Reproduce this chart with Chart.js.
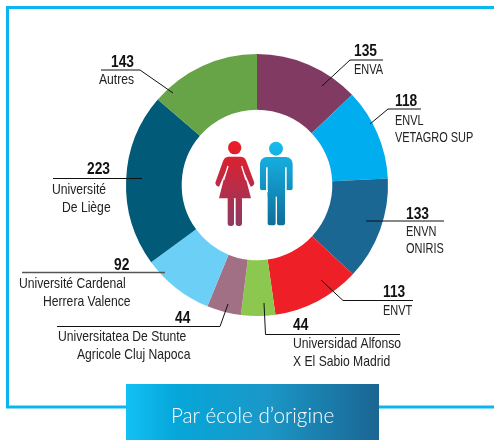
<!DOCTYPE html>
<html><head><meta charset="utf-8">
<style>html,body{margin:0;padding:0;background:#fff}#w{position:relative;width:494px;height:440px}canvas{display:block}</style>
<script src="https://cdn.jsdelivr.net/npm/chart.js@4"></script>
</head><body><div id="w"><canvas id="c" width="494" height="440"></canvas></div>
<script>
const categories=["ENVA","ENVL VETAGRO SUP","ENVN ONIRIS","ENVT","Universidad Alfonso X El Sabio Madrid","Universitatea De Stunte Agricole Cluj Napoca","Université Cardenal Herrera Valence","Université De Liège","Autres"];
const values=[135,118,133,113,44,44,92,223,143];
const colors=["#813a62","#00aeef","#1b6793","#ee1f26","#8cc84f","#a17085","#6ccff6","#005a78","#67a347"];
const labelLines=[["ENVA"],["ENVL","VETAGRO SUP"],["ENVN","ONIRIS"],["ENVT"],["Universidad Alfonso","X El Sabio Madrid"],["Universitatea De Stunte","Agricole Cluj Napoca"],["Université Cardenal","Herrera Valence"],["Université","De Liège"],["Autres"]];
const title="Par école d’origine";
const layout=[
 {nx:354,ny:56,tx:[354],ty:[74],path:[[383,60],[350,60],[322,86]]},
 {nx:395,ny:106,tx:[395,395],ty:[125,142],path:[[421,109],[388,109],[370,124]]},
 {nx:406,ny:219,tx:[406,406],ty:[236,253],path:[[444,221],[366,221]]},
 {nx:383,ny:297,tx:[383],ty:[315],path:[[413,300.5],[343,300.5],[321,280]]},
 {nx:293,ny:330,tx:[293,293],ty:[348,366],path:[[400,334.5],[265.5,334.5],[264,303]]},
 {nx:175,ny:323,tx:[58,77],ty:[341,359],path:[[57,326.5],[220,326.5],[228,304]]},
 {nx:114,ny:270,tx:[19,43],ty:[288,306],path:[[22,272.5],[165,272.5]],gray:1},
 {nx:87,ny:174,tx:[52,62],ty:[194,212],path:[[53,178.5],[142,178.5]]},
 {nx:111,ny:67,tx:[99],ty:[84],path:[[101,70],[140,70],[173,93]]}
];
function rr(ctx,x,y,w,h,r){ctx.beginPath();ctx.roundRect(x,y,w,h,r);ctx.fill();}
function narrow(ctx,t,x,y,s){ctx.save();ctx.translate(x,y);ctx.scale(s,1);ctx.fillText(t,0,0);ctx.restore();}
function people(ctx){
 ctx.save();ctx.translate(205,130);ctx.scale(1/3,1/3);
 let g=ctx.createLinearGradient(0,33,0,288);g.addColorStop(0,"#ed1c24");g.addColorStop(1,"#8d3a64");
 ctx.fillStyle=g;
 ctx.beginPath();ctx.arc(89,53,20,0,7);ctx.fill();
 ctx.beginPath();ctx.moveTo(70,80);ctx.lineTo(108,80);ctx.quadraticCurveTo(120,81,124,94);ctx.lineTo(148,158);ctx.quadraticCurveTo(147,168,137,170);ctx.lineTo(117,125);ctx.lineTo(138,205);ctx.lineTo(42,205);ctx.lineTo(62,125);ctx.lineTo(42,170);ctx.quadraticCurveTo(32,168,31,158);ctx.lineTo(54,94);ctx.quadraticCurveTo(58,81,70,80);ctx.fill();
 rr(ctx,68,200,19,88,8);rr(ctx,92,200,19,88,8);
 ctx.strokeStyle="#fff";ctx.lineWidth=4;
 ctx.beginPath();ctx.moveTo(69,108);ctx.lineTo(56,150);ctx.moveTo(110,108);ctx.lineTo(123,150);ctx.stroke();
 g=ctx.createLinearGradient(0,35,0,288);g.addColorStop(0,"#16bdf0");g.addColorStop(1,"#0f6d99");
 ctx.fillStyle=g;
 ctx.beginPath();ctx.arc(213,56,21,0,7);ctx.fill();
 ctx.beginPath();ctx.roundRect(165,81,98,100,[20,20,8,8]);ctx.fill();
 ctx.fillRect(188,170,52,30);
 rr(ctx,188,180,24,106,8);rr(ctx,216,180,24,106,8);
 ctx.fillStyle="#fff";ctx.fillRect(183,112,5,72);ctx.fillRect(240,112,5,72);
 ctx.fillRect(165,181,23,5);ctx.fillRect(240,181,23,5);
 ctx.restore();
}
const overlay={id:"overlay",afterDraw(ch){
 const ctx=ch.ctx;ctx.save();
 ctx.strokeStyle="#0bb5ef";ctx.lineWidth=3;
 ctx.beginPath();ctx.moveTo(126,407);ctx.lineTo(7.5,407);ctx.lineTo(7.5,7.5);ctx.lineTo(494,7.5);ctx.moveTo(379,407);ctx.lineTo(494,407);ctx.stroke();
 const g=ctx.createLinearGradient(126,0,379,0);g.addColorStop(0,"#12c0f4");g.addColorStop(.2,"#06a6d9");g.addColorStop(.55,"#1a98c8");g.addColorStop(1,"#1b6592");
 ctx.fillStyle=g;ctx.fillRect(126,384,253,56);
 ctx.fillStyle="#fff";ctx.font='300 21px "Lato"';ctx.textAlign="left";ctx.textBaseline="alphabetic";
 narrow(ctx,title,171,423,.985);
 layout.forEach(l=>{
  ctx.strokeStyle=l.gray?"#555":"#111";ctx.lineWidth=l.gray?1.5:1;
  ctx.beginPath();l.path.forEach((p,i)=>i?ctx.lineTo(p[0],p[1]):ctx.moveTo(p[0],p[1]));ctx.stroke();
 });
 values.forEach((v,i)=>{
  const l=layout[i];
  ctx.fillStyle="#111";ctx.font='bold 16px "Liberation Sans"';
  narrow(ctx,String(v),l.nx,l.ny,.86);
  ctx.fillStyle="#222";ctx.font='15px "Liberation Sans"';
  labelLines[i].forEach((t,j)=>narrow(ctx,t,l.tx[j],l.ty[j],t===t.toUpperCase()?.73:.81));
 });
 people(ctx);
 ctx.restore();
}};
new Chart(document.getElementById("c"),{type:"doughnut",
 data:{labels:categories,datasets:[{data:values,backgroundColor:colors,borderWidth:0}]},
 options:{responsive:false,animation:false,cutout:"57.5%",
  layout:{padding:{left:126,right:106,top:54,bottom:124}},
  plugins:{legend:{display:false},tooltip:{enabled:false}}},
 plugins:[overlay]});
</script></body></html>
